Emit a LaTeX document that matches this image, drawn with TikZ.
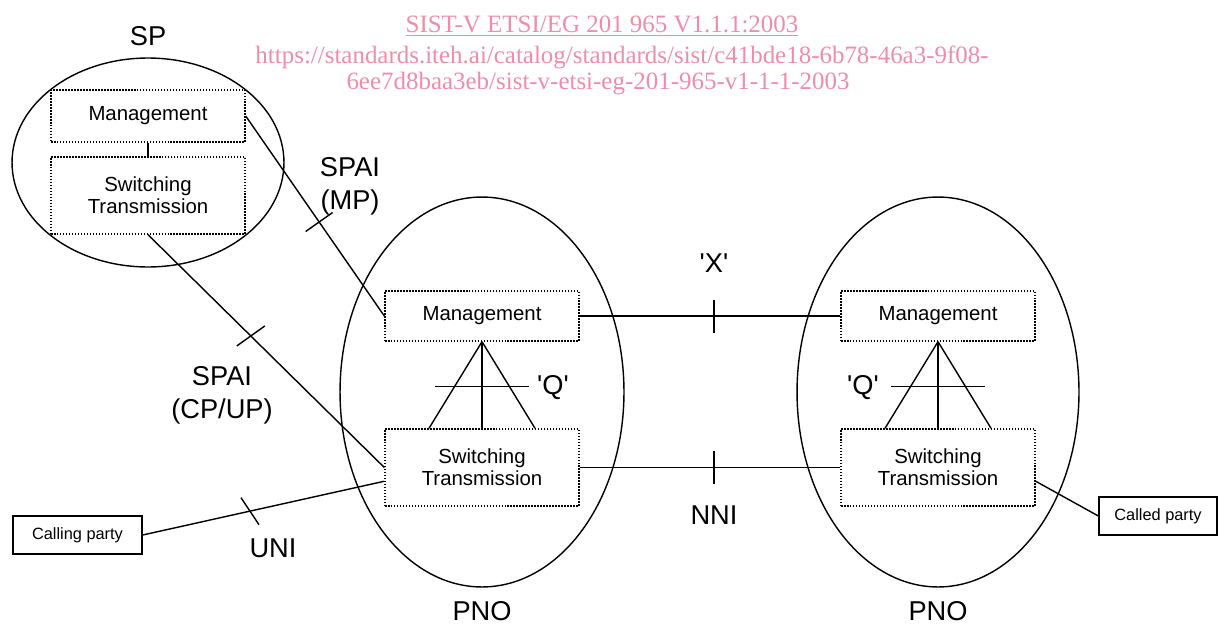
\documentclass[tikz,border=0pt]{standalone}
\usepackage{fontspec}
\setmainfont{Liberation Sans}
\newfontfamily\linkfont{Liberation Serif}
\usetikzlibrary{positioning, calc, shapes}
\definecolor{linkpink}{RGB}{240,140,170}
\newcommand{\qname}[1]{\textquotesingle#1\textquotesingle}

\begin{document}
\begin{tikzpicture}[x=0.02cm, y=-0.02cm, line width=0.8pt,
    network/.style={ellipse, draw, inner sep=0pt},
    block/.style={draw, dash pattern=on 0.85pt off 0.85pt, minimum width=3.88cm, align=center, font=\fontsize{11.6}{12.3}\selectfont},
    party/.style={draw, minimum height=0.76cm, font=\fontsize{9.3}{11}\selectfont},
    big/.style={font=\fontsize{15.5}{18.7}\selectfont, align=center},
    link/.style={font=\linkfont\fontsize{14.2}{17}\selectfont, text=linkpink, anchor=base}]
  \useasboundingbox (0,0) rectangle (1219,625);

  \node[link] (ref1) at (602,33) {\underline{SIST-V ETSI/EG 201 965 V1.1.1:2003}};
  \node[link] (ref2) at (622,64) {https://standards.iteh.ai/catalog/standards/sist/c41bde18-6b78-46a3-9f08-};
  \node[link] (ref3) at (598,90) {6ee7d8baa3eb/sist-v-etsi-eg-201-965-v1-1-1-2003};

  \node[network, minimum width=5.44cm, minimum height=4.18cm] (sp) at (148,162.5) {};
  \node[network, minimum width=5.68cm, minimum height=7.8cm] (pno1) at (482,392) {};
  \node[network, minimum width=5.64cm, minimum height=7.8cm] (pno2) at (938,392) {};

  \node[block, minimum height=1.04cm] (spman) at (148,116) {Management};
  \node[block, minimum height=1.54cm] (spsw) at (148,195.5) {Switching\\Transmission};
  \node[block, minimum height=1cm] (man1) at (482,316) {Management};
  \node[block, minimum height=1.54cm] (sw1) at (482,467.5) {Switching\\Transmission};
  \node[block, minimum height=1cm] (man2) at (938,316) {Management};
  \node[block, minimum height=1.54cm] (sw2) at (938,467.5) {Switching\\Transmission};

  \node[party, minimum width=2.58cm] (calling) at (77.5,535) {Calling party};
  \node[party, minimum width=2.36cm] (called) at (1158,516) {Called party};

  \node[big, above=3pt of sp] (splabel) {SP};
  \node[big, below=4pt of pno1] (pnolabel1) {PNO};
  \node[big, below=4pt of pno2] (pnolabel2) {PNO};
  \node[big] (mplabel) at (350,186) {SPAI\\(MP)};
  \node[big] (cplabel) at (222,395) {SPAI\\(CP/UP)};
  \node[big] (unilabel) at (273,548) {UNI};
  \node[big] (xlabel) at (714,263) {\qname{X}};
  \node[big] (nnilabel) at (714,515.5) {NNI};
  \node[big] (qlabel1) at (553,388) {\qname{Q}};
  \node[big] (qlabel2) at (863,388) {\qname{Q}};

  \draw (spman) -- (spsw);
  \draw (spman.east) -- coordinate[pos=.53] (tmp) (man1.west);
  \draw (spsw.south) -- coordinate[pos=.435] (tcp) (sw1.west);
  \draw (calling.east) -- coordinate[pos=.444] (tuni) (sw1.188);
  \draw (sw2.-8) -- (called.west);
  \draw (man1) -- coordinate[pos=.515] (tx) (man2);
  \draw (sw1) -- coordinate[pos=.515] (tnni) (sw2);

  \foreach \t/\dx/\dy in {tmp/13.5/-9.5, tcp/14/-10, tuni/9/13.5, tx/0/16.5, tnni/0/16.5}
    \draw ($(\t)-(\dx,\dy)$) -- ($(\t)+(\dx,\dy)$);

  \foreach \i in {1,2} {
    \draw (man\i.south) -- (sw\i.north);
    \draw (man\i.south) -- ($(sw\i.north)+(-53,0)$);
    \draw (man\i.south) -- ($(sw\i.north)+(53,0)$);
    \draw ($(man\i.south)!0.52!(sw\i.north)+(-47,0)$) -- ++(94,0);
  }
\end{tikzpicture}
\end{document}
